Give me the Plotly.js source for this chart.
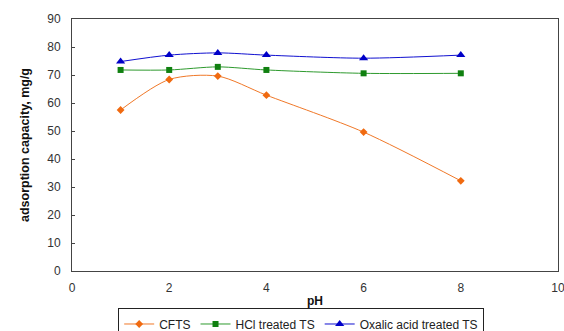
<!DOCTYPE html>
<html><head><meta charset="utf-8">
<script src="https://cdn.plot.ly/plotly-3.0.1.min.js"></script>
<style>body{margin:0;background:#fff}#c{width:564px;height:331px}</style>
</head><body><div id="c"></div>
<script>
var pH = [1, 2, 3, 4, 6, 8];
var cfts = [57.5, 68.4, 69.6, 62.8, 49.6, 32.2];
var hcl = [71.8, 71.8, 72.9, 71.8, 70.6, 70.6];
var oxalic = [74.8, 77.1, 77.9, 77.1, 76.0, 77.1];
var names = ["CFTS", "HCl treated TS", "Oxalic acid treated TS"];
var xTicks = [0, 2, 4, 6, 8, 10];

var traces = [
  {x: pH, y: cfts, name: names[0], mode: "lines+markers", line: {color: "#F07828", width: 1, shape: "spline", smoothing: 0.8},
   marker: {symbol: "diamond", size: 6, color: "#F06A10"}},
  {x: pH, y: hcl, name: names[1], mode: "lines+markers", line: {color: "#2E9A2E", width: 1, shape: "spline", smoothing: 0.8},
   marker: {symbol: "square", size: 6, color: "#108010"}},
  {x: pH, y: oxalic, name: names[2], mode: "lines+markers", line: {color: "#1010D0", width: 1, shape: "spline", smoothing: 0.8},
   marker: {symbol: "triangle-up", size: 8, color: "#0000C8"}}
];
var layout = {
  width: 564, height: 331,
  margin: {l: 72, r: 6, t: 19, b: 60, autoexpand: false},
  paper_bgcolor: "#fff", plot_bgcolor: "#fff",
  font: {family: "Liberation Sans, Arial, sans-serif", size: 12, color: "#333"},
  showlegend: true,
  legend: {orientation: "h", x: 0.534, xanchor: "center", xref: "container", y: 0.068, yref: "container", yanchor: "top",
    bordercolor: "#222", borderwidth: 1, font: {size: 12, color: "#222"}, tracegroupgap: 0},
  xaxis: {range: [0, 10], tickvals: xTicks, ticktext: xTicks.map(String), showgrid: false, zeroline: false, showline: true,
    linecolor: "#444", linewidth: 1, mirror: true, ticks: "", automargin: false, ticklabeloverflow: "allow",
    ticklabelstandoff: 6,
    title: {text: "<b>pH</b>", font: {size: 12, color: "#111"}, standoff: 5}},
  yaxis: {range: [0, 90], dtick: 10, showgrid: false, zeroline: false, showline: true, linecolor: "#444", linewidth: 1, mirror: true,
    ticks: "inside", ticklen: 3, tickcolor: "#444", automargin: false, ticklabelstandoff: 8,
    title: {text: "<b>adsorption capacity, mg/g</b>", font: {size: 12.5, color: "#111"}, standoff: 14}}
};
Plotly.newPlot("c", traces, layout, {staticPlot: true});
</script></body></html>
